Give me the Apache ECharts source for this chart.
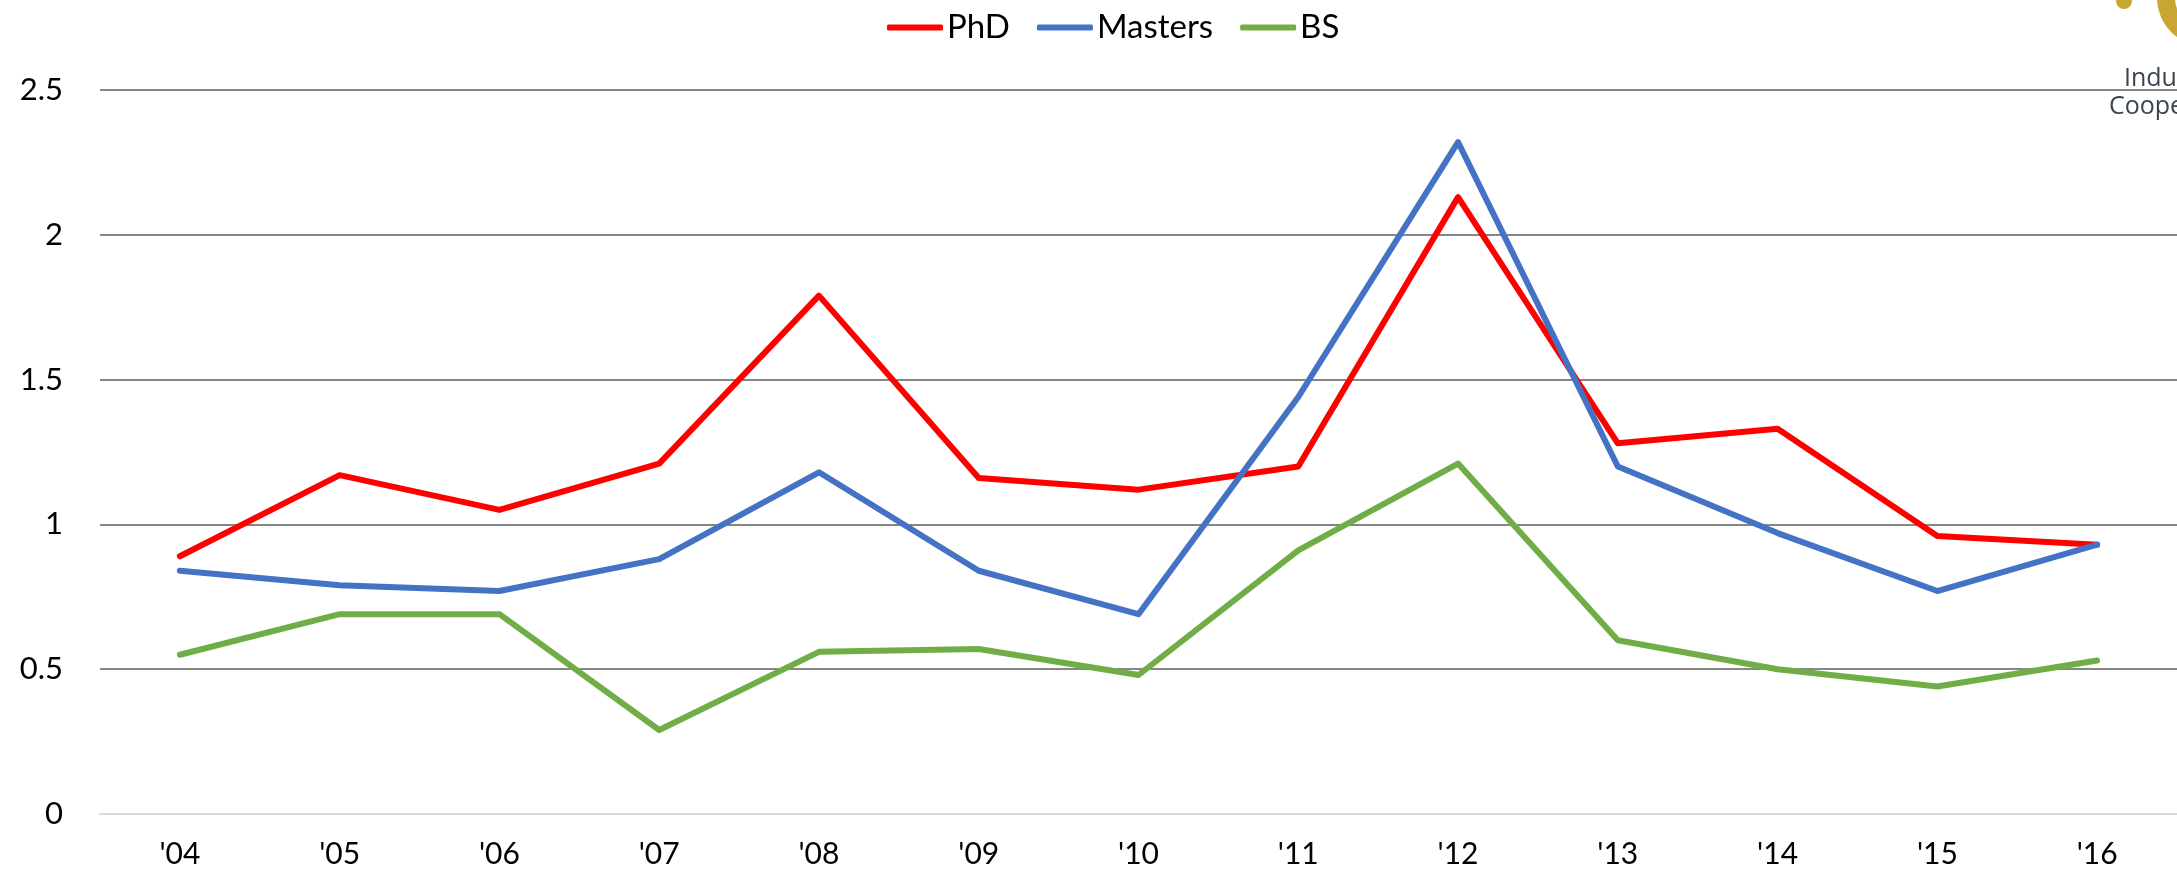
<!DOCTYPE html>
<html>
<head>
<meta charset="utf-8">
<script src="https://cdn.jsdelivr.net/npm/echarts@6/dist/echarts.min.js"></script>
<style>
  html, body { margin: 0; padding: 0; background: #fff; }
  #chart { width: 2177px; height: 872px; }
</style>
</head>
<body>
<div id="chart"></div>
<script>
// years on the x axis
var years = ["'04", "'05", "'06", "'07", "'08", "'09", "'10", "'11", "'12", "'13", "'14", "'15", "'16"];
// values
var phd = [0.89, 1.17, 1.05, 1.21, 1.79, 1.16, 1.12, 1.20, 2.13, 1.28, 1.33, 0.96, 0.93];
var masters = [0.84, 0.79, 0.77, 0.88, 1.18, 0.84, 0.69, 1.44, 2.32, 1.20, 0.97, 0.77, 0.93];
var bs = [0.55, 0.69, 0.69, 0.29, 0.56, 0.57, 0.48, 0.91, 1.21, 0.60, 0.50, 0.44, 0.53];
var yTicks = [0, 0.5, 1, 1.5, 2, 2.5];

var font = 'Lato';
var chart = echarts.init(document.getElementById('chart'));

function line(name, data, color) {
  return {
    name: name,
    type: 'line',
    data: data,
    symbol: 'none',
    lineStyle: { color: color, width: 6, cap: 'round', join: 'round' },
    itemStyle: { color: color },
    z: 3
  };
}

chart.setOption({
  animation: false,
  backgroundColor: '#fff',
  color: ['#ff0000', '#4472c4', '#70ad47'],
  legend: {
    left: 882,
    top: 6,
    icon: 'roundRect',
    itemWidth: 56,
    itemHeight: 6,
    itemGap: 27,
    textStyle: { fontFamily: font, fontSize: 33, color: '#000', padding: [0, 0, 0, -1] },
    data: ['PhD', 'Masters', 'BS']
  },
  grid: { left: 100, right: -3, top: 90, bottom: 58, containLabel: false },
  xAxis: {
    type: 'category',
    data: years,
    boundaryGap: true,
    axisLine: { show: true, lineStyle: { color: '#d9d9d9', width: 2 } },
    axisTick: { show: false },
    axisLabel: { fontFamily: font, fontSize: 30, color: '#000', margin: 25 },
    splitLine: { show: false }
  },
  yAxis: {
    type: 'value',
    min: yTicks[0],
    max: yTicks[yTicks.length - 1],
    interval: 0.5,
    axisLine: { show: false },
    axisTick: { show: false },
    axisLabel: {
      fontFamily: font, fontSize: 31, color: '#000', margin: 37,
      formatter: function (v) { return yTicks.indexOf(v) >= 0 ? String(v) : ''; }
    },
    splitLine: {
      show: true,
      lineStyle: { color: ['#d9d9d9', '#868686', '#868686', '#868686', '#868686', '#868686'], width: 2 }
    }
  },
  series: [
    line('PhD', phd, '#ff0000'),
    line('Masters', masters, '#4472c4'),
    line('BS', bs, '#70ad47')
  ],
  graphic: [
    // bits of the logo cut off at the top right corner
    { type: 'circle', shape: { cx: 2205, cy: -2, r: 48 }, style: { fill: '#c9a634' }, z: 1 },
    { type: 'circle', shape: { cx: 2205, cy: -2, r: 30 }, style: { fill: '#fff' }, z: 1 },
    { type: 'circle', shape: { cx: 2124, cy: 1, r: 8 }, style: { fill: '#c9a634' }, z: 1 },
    { type: 'text', left: 2124, top: 66, style: { text: 'Industry', font: '25px "Open Sans"', fill: '#3a4450' }, z: 10 },
    { type: 'text', left: 2109, top: 94, style: { text: 'Cooperation', font: '25px "Open Sans"', fill: '#3a4450' }, z: 10 }
  ]
});
</script>
</body>
</html>
